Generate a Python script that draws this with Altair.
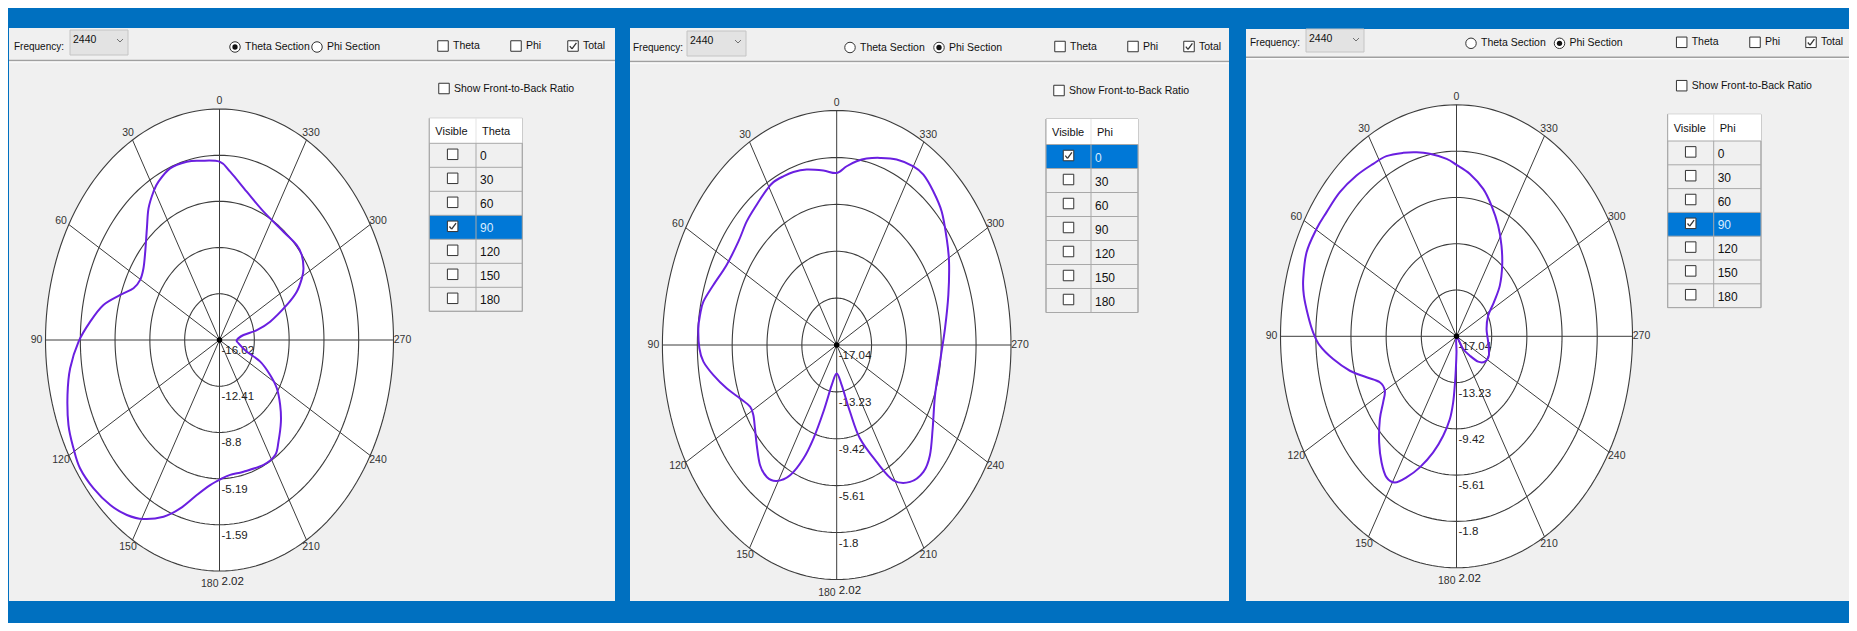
import altair as alt
import pandas as pd

# ---------------- data ----------------
ANGLE_TICKS = [0, 30, 60, 90, 120, 150, 180, 210, 240, 270, 300, 330]
TABLE_VALUES = ["0", "30", "60", "90", "120", "150", "180"]

RINGS_1 = [-16.02, -12.41, -8.8, -5.19, -1.59, 2.02]
RING_LABELS_1 = ["-16.02", "-12.41", "-8.8", "-5.19", "-1.59", "2.02"]
RINGS_23 = [-17.04, -13.23, -9.42, -5.61, -1.8, 2.02]
RING_LABELS_23 = ["-17.04", "-13.23", "-9.42", "-5.61", "-1.8", "2.02"]

# panel 1 : Theta section, theta = 90
P1_ANG = [0, 8.1, 13.7, 20.9, 27.1, 30.6, 35.6, 40.8, 48.2, 54.6, 60.3, 65.6, 71.1, 77.2,
          83.9, 90.5, 98.1, 105.2, 113.0, 119.2, 124.7, 131.6, 138.7, 144.9, 150.6, 157.2,
          162.8, 169.0, 175.1, 181.3, 186.0, 193.6, 205.1, 212.7, 217.6, 224.9, 231.1,
          237.6, 242.5, 248.2, 252.2, 262.5, 270, 278.9, 281.3, 285.2, 291.4, 295.2, 299.4,
          302.7, 307.9, 312.8, 321.9, 335.5, 346.3, 355.2]
P1_DB = [-2.09, -1.88, -1.69, -1.67, -2.13, -2.57, -3.38, -4.50, -5.69, -6.35, -6.55, -6.23,
         -5.14, -3.68, -2.54, -1.41, -0.38, 0.31, 0.99, 1.32, 1.57, 1.44, 1.14, 0.68, 0.03,
         -1.05, -2.25, -3.69, -4.65, -5.2, -5.43, -5.44, -5.25, -5.34, -6.0, -7.0, -7.94,
         -8.98, -10.10, -11.47, -13.04, -14.03, -14.22, -13.5, -12.07, -10.58, -8.52, -7.17,
         -6.22, -5.67, -5.21, -5.11, -5.27, -5.00, -4.10, -2.83]

# panel 2 : Phi section, phi = 0
P2_ANG = [0, 5.9, 13.0, 18.6, 23.05, 27.6, 31.2, 37.5, 44.4, 51.9, 61.5, 70.1, 76.4, 80.7,
          84.9, 91.0, 95.3, 100.3, 106.3, 112.3, 117.9, 122.0, 127.2, 133.0, 139.4, 144.5,
          149.3, 154.3, 158.5, 161.5, 165.0, 170.5, 180, 189.5, 195.0, 198.5, 204.7, 209.4,
          215.8, 222.6, 228.7, 237.1, 249.25, 263.15, 276.5, 288.45, 298.9, 305.85, 313.4,
          319.8, 325.6, 330.0, 336.5, 342.7, 347.8, 351.7, 355.7]
P2_DB = [-3.06, -2.79, -2.41, -2.20, -2.14, -2.10, -2.28, -2.67, -2.98, -3.39, -3.36, -2.70,
         -2.04, -1.90, -1.85, -2.02, -2.40, -3.34, -4.50, -5.61, -6.32, -6.29, -5.82, -5.09,
         -4.17, -3.87, -4.19, -5.29, -7.12, -9.02, -11.42, -13.73, -14.73, -13.73, -11.42,
         -9.02, -6.58, -4.42, -3.32, -3.03, -3.47, -4.54, -5.54, -5.66, -5.12, -4.17, -3.01,
         -2.21, -1.24, -0.68, -0.26, -0.27, -0.60, -1.11, -1.54, -1.95, -2.47]

# panel 3 : Phi section, phi = 90
P3_ANG = [0, 4.2, 10.9, 15.9, 20.9, 27.1, 32.4, 39.3, 46.8, 54.0, 59.7, 66.9, 74.1, 78.5,
          84.0, 88.8, 93.0, 98.0, 103.8, 109.1, 114.5, 120.0, 124.4, 129.4, 136.2, 142.0,
          146.9, 151.0, 155.0, 159.8, 165.2, 170.0, 174.0, 176.2, 177.4, 178.5, 180, 190,
          214.7, 222.2, 228.3, 235.8, 245.5, 261.8, 280.5, 296.4, 304.7, 311.65, 319.65,
          326.9, 333.7, 340.6, 346.6, 353.8]
P3_DB = [-2.92, -2.39, -1.74, -1.28, -0.87, -0.38, -0.22, 0.06, 0.29, 0.35, 0.51, 0.61, 0.22,
         -0.17, -0.88, -1.51, -2.22, -3.55, -5.15, -6.73, -7.91, -8.08, -7.41, -6.30, -4.94,
         -3.86, -3.17, -3.28, -4.22, -5.54, -7.15, -8.73, -10.19, -11.59, -12.97, -14.35,
         -15.72, -17.0, -15.77, -14.89, -13.90, -13.33, -13.19, -13.57, -13.73, -13.21,
         -12.12, -10.76, -9.40, -8.12, -6.87, -5.63, -4.56, -3.59]

# ---------------- layout / style ----------------
W, H = 1841, 615
OX, OY = 8, 8
FONT = "Liberation Sans, Arial, sans-serif"
BLUE_BG = "#0070C0"
PANEL = "#F0F0F0"
CURVE = "#6A1FE0"
GRID = "#3c3c3c"
TB = 10.5          # tool-bar font size
dummy = pd.DataFrame({"k": [0]})


def X(v):
    return alt.value(v - OX)


def Y(v):
    return alt.value(v - OY)


def rect(x1, y1, x2, y2, fill, stroke=None, sw=1.0):
    kw = dict(fill=fill, opacity=1)
    if stroke:
        kw.update(stroke=stroke, strokeWidth=sw)
    return alt.Chart(dummy).mark_rect(**kw).encode(x=X(x1), x2=X(x2), y=Y(y1), y2=Y(y2))


def seg(x1, y1, x2, y2, color="#000", sw=1.0):
    return alt.Chart(dummy).mark_rule(color=color, strokeWidth=sw).encode(
        x=X(x1), x2=X(x2), y=Y(y1), y2=Y(y2))


def txt(s, x, y, size=TB, color="#111", align="left"):
    return alt.Chart(dummy).mark_text(text=s, align=align, baseline="middle", font=FONT,
                                      fontSize=size, color=color).encode(x=X(x), y=Y(y))


def radio(x, y, on):
    out = [alt.Chart(dummy).mark_point(shape="circle", filled=True, fill="white", stroke="#333",
                                       strokeWidth=1, size=110, opacity=1).encode(x=X(x), y=Y(y))]
    if on:
        out.append(alt.Chart(dummy).mark_point(shape="circle", filled=True, color="#111",
                                               size=28, opacity=1).encode(x=X(x), y=Y(y)))
    return out


def checkbox(x, y, on, size=10.5, stroke="#333"):
    h = size / 2
    out = [rect(x - h, y - h, x + h, y + h, "white", stroke, 1)]
    if on:
        out.append(seg(x - 3.2, y + 0.2, x - 1.0, y + 2.8, "#333", 1.3))
        out.append(seg(x - 1.0, y + 2.8, x + 3.4, y - 3.2, "#333", 1.3))
    return out


def decor(p):
    L = []
    L.append(rect(p["left"], p["top"], p["right"], p["bottom"], PANEL))
    by = p["bar_y"]
    # separator under the tool bar
    L.append(seg(p["left"], p["sep_y"], p["right"], p["sep_y"], "#A0A0A0", 1.5))
    L.append(seg(p["left"], p["sep_y"] + 1.5, p["right"], p["sep_y"] + 1.5, "#FFFFFF", 1))
    L.append(txt("Frequency:", p["freq_x"], by, 10))
    cx1, cy1, cx2, cy2 = p["combo"]
    L.append(rect(cx1, cy1, cx2, cy2, "#E3E3E3", "#C4C4C4", 1))
    L.append(txt("2440", cx1 + 3, cy1 + 10, 10.5))
    ax = cx2 - 8
    L.append(seg(ax - 3, cy1 + 9, ax, cy1 + 12, "#707070", 1))
    L.append(seg(ax, cy1 + 12, ax + 3, cy1 + 9, "#707070", 1))
    r1, r2 = p["radio1"], p["radio2"]
    L += radio(r1, by, p["mode"] == 0)
    L.append(txt("Theta Section", r1 + 10, by))
    L += radio(r2, by, p["mode"] == 1)
    L.append(txt("Phi Section", r2 + 10, by))
    for cxp, label, on in zip(p["checks"], ["Theta", "Phi", "Total"], [False, False, True]):
        L += checkbox(cxp, by - 1, on)
        L.append(txt(label, cxp + 10, by - 1))
    fx, fy = p["f2b"]
    L += checkbox(fx, fy, False)
    L.append(txt("Show Front-to-Back Ratio", fx + 10, fy))
    # table
    tl, tm, tr, tt, th, rh = p["table"]
    n = len(TABLE_VALUES)
    tb = th + n * rh
    L.append(rect(tl, tt, tr, tb, PANEL, "#A8A8A8", 1))
    L.append(rect(tl, tt, tr, th, "white"))
    L.append(seg(tm, tt, tm, th, "#E3E3E3", 1))
    L.append(txt("Visible", tl + 6, (tt + th) / 2 + 1, 11))
    L.append(txt(p["col"], tm + 6, (tt + th) / 2 + 1, 11))
    s = p["sel"]
    L.append(rect(tl, th + s * rh, tr, th + (s + 1) * rh, "#0078D7"))
    for i in range(n + 1):
        L.append(seg(tl, th + i * rh, tr, th + i * rh, "#A8A8A8", 1))
    L.append(seg(tl, tt, tl, tb, "#A8A8A8", 1))
    L.append(seg(tr, th, tr, tb, "#A8A8A8", 1))
    L.append(seg(tm, th, tm, tb, "#A8A8A8", 1))
    for i, v in enumerate(TABLE_VALUES):
        yy = th + (i + 0.5) * rh
        L += checkbox((tl + tm) / 2, yy - 1, i == s, 10.5, "#333")
        L.append(txt(v, tm + 4, yy + 1, 12, "#D8ECFF" if i == s else "#111"))
    return L


def polar(ang, db, rings, ring_labels, cx, cy, rx, ry):
    center = rings[0]
    R = rings[-1] - center
    xs = alt.Scale(domain=[-R, R], range=[cx - rx - OX, cx + rx - OX], nice=False, zero=False)
    ys = alt.Scale(domain=[-R, R], range=[cy + ry - OY, cy - ry - OY], nice=False, zero=False)

    def ex(f):
        return alt.X(f, type="quantitative", scale=xs, axis=None)

    def ey(f):
        return alt.Y(f, type="quantitative", scale=ys, axis=None)

    D2R = "PI/180"
    fill = (alt.Chart(dummy)
            .transform_calculate(u="sequence(-1000, 1001, 4)").transform_flatten(["u"])
            .transform_calculate(px=f"datum.u/1000*{R}",
                                 pt=f"sqrt(max(0, 1-(datum.u/1000)*(datum.u/1000)))*{R}",
                                 pb=f"-sqrt(max(0, 1-(datum.u/1000)*(datum.u/1000)))*{R}")
            .mark_area(color="white", opacity=1)
            .encode(x=ex("px"), y=ey("pt"), y2="pb:Q"))
    ring_df = pd.DataFrame({"ring": rings[1:]})
    ringl = (alt.Chart(ring_df)
             .transform_calculate(a="sequence(0, 361, 2)").transform_flatten(["a"])
             .transform_calculate(px=f"-sin(datum.a*{D2R})*(datum.ring-({center}))",
                                  py=f"cos(datum.a*{D2R})*(datum.ring-({center}))")
             .mark_line(color=GRID, strokeWidth=1.1)
             .encode(x=ex("px"), y=ey("py"), detail="ring:N", order="a:Q"))
    tick_df = pd.DataFrame({"a": ANGLE_TICKS})
    spokes = (alt.Chart(tick_df)
              .transform_calculate(z="0", ex2=f"-sin(datum.a*{D2R})*{R}",
                                   ey2=f"cos(datum.a*{D2R})*{R}")
              .mark_rule(color=GRID, strokeWidth=1)
              .encode(x=ex("z"), y=ey("z"), x2="ex2:Q", y2="ey2:Q"))
    fx = 1 + 9.0 / rx
    fy = 1 + 8.0 / ry
    alabels = (alt.Chart(tick_df)
               .transform_filter("datum.a != 180")
               .transform_calculate(lx=f"-sin(datum.a*{D2R})*{R}*{fx}",
                                    ly=f"cos(datum.a*{D2R})*{R}*{fy}",
                                    t="toString(datum.a)")
               .mark_text(font=FONT, fontSize=10.5, color="#333", align="center",
                          baseline="middle")
               .encode(x=ex("lx"), y=ey("ly"), text="t:N"))
    a180 = (alt.Chart(tick_df)
            .transform_filter("datum.a == 180")
            .transform_calculate(z="0", ly=f"-{R}", t="toString(datum.a)")
            .mark_text(font=FONT, fontSize=10.5, color="#333", align="right", baseline="middle",
                       dx=-1, dy=13)
            .encode(x=ex("z"), y=ey("ly"), text="t:N"))
    rl_df = pd.DataFrame({"ring": rings, "label": ring_labels})
    rlabels = (alt.Chart(rl_df)
               .transform_calculate(z="0", ly=f"-(datum.ring-({center}))")
               .mark_text(font=FONT, fontSize=11.5, color="#222", align="left",
                          baseline="middle", dx=2, dy=11)
               .encode(x=ex("z"), y=ey("ly"), text="label:N"))
    curve_df = pd.DataFrame({"angle": ang, "db": db})
    curve = (alt.Chart(curve_df)
             .transform_calculate(px=f"-sin(datum.angle*{D2R})*(datum.db-({center}))",
                                  py=f"cos(datum.angle*{D2R})*(datum.db-({center}))")
             .mark_line(color=CURVE, strokeWidth=2, interpolate="cardinal-closed")
             .encode(x=ex("px"), y=ey("py"), order="angle:Q"))
    dot = (alt.Chart(dummy).transform_calculate(z="0")
           .mark_point(shape="circle", filled=True, color="#000", size=30, opacity=1)
           .encode(x=ex("z"), y=ey("z")))
    return alt.layer(fill, ringl, spokes, alabels, a180, rlabels, curve, dot)


P1 = dict(left=9, right=615, top=28, bottom=601, bar_y=47, sep_y=60.5, freq_x=14,
          combo=(70, 30, 128, 55), radio1=235, radio2=317, checks=(443, 516, 573),
          f2b=(444, 88.5), table=(429.3, 476, 522.3, 118.3, 143.3, 24), sel=3, col="Theta",
          mode=0)
P2 = dict(left=630, right=1229, top=28, bottom=601, bar_y=47.5, sep_y=61.5, freq_x=633,
          combo=(687, 31, 746, 56), radio1=850, radio2=939, checks=(1060, 1133, 1189),
          f2b=(1059, 90.5), table=(1046, 1091, 1138, 119, 144.5, 24), sel=0, col="Phi",
          mode=1)
P3 = dict(left=1246, right=1853, top=29, bottom=601, bar_y=43.3, sep_y=57.3, freq_x=1250,
          combo=(1306, 29, 1364, 52), radio1=1471, radio2=1559.5, checks=(1681.7, 1755, 1811),
          f2b=(1681.7, 85.7), table=(1667.7, 1713.7, 1761, 114.3, 141, 23.8), sel=3,
          col="Phi", mode=1)

layers = []
layers += decor(P1)
layers.append(polar(P1_ANG, P1_DB, RINGS_1, RING_LABELS_1, 219.5, 340, 174, 231))
layers += decor(P2)
layers.append(polar(P2_ANG, P2_DB, RINGS_23, RING_LABELS_23, 836.7, 345, 174.3, 234.5))
layers += decor(P3)
layers.append(polar(P3_ANG, P3_DB, RINGS_23, RING_LABELS_23, 1456.5, 336.3, 176, 231.5))

chart = (alt.layer(*layers)
         .resolve_scale(x="independent", y="independent")
         .properties(width=W, height=H, padding=0, background=BLUE_BG,
                     autosize=alt.AutoSizeParams(type="fit", contains="padding"))
         .configure_view(stroke=None))

chart.save("out.html", embed_options={"renderer": "svg", "actions": False})
